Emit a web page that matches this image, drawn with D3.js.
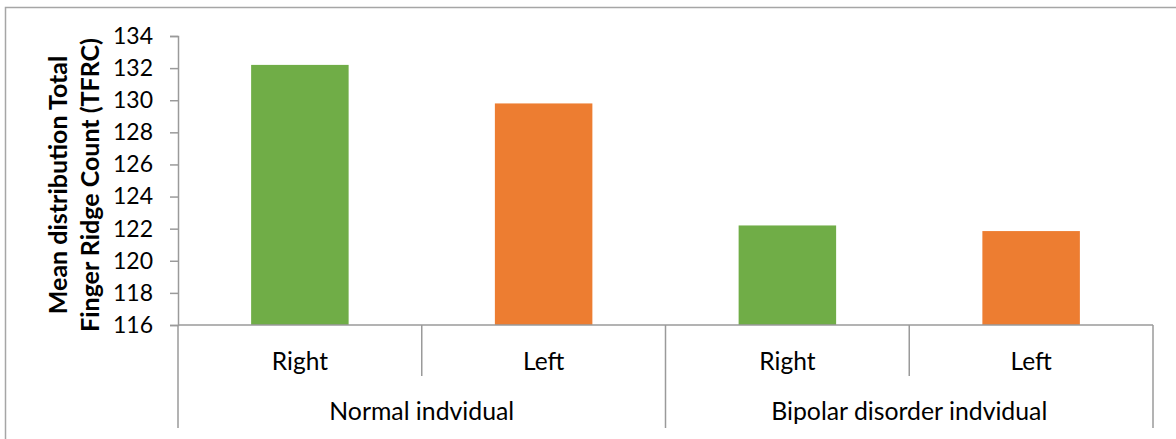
<!DOCTYPE html>
<html>
<head>
<meta charset="utf-8">
<script src="https://cdn.jsdelivr.net/npm/d3@7"></script>
<style>
  html, body { margin: 0; padding: 0; background: #fff; }
  svg { display: block; }
  text { font-family: Lato, "Open Sans", sans-serif; fill: #000; }
</style>
</head>
<body>
<svg id="chart" width="1176" height="439"></svg>
<script>
// Mean Total Finger Ridge Count by hand, for two groups
const groups = ["Normal indvidual", "Bipolar disorder indvidual"];
const hands = ["Right", "Left"];
const values = [132.2, 129.8, 122.2, 121.85];
const yTicks = [116, 118, 120, 122, 124, 126, 128, 130, 132, 134];
const colors = ["#70AD47", "#ED7D31"];

const svg = d3.select("#chart");
const axisColor = "#9a9a9a";

const plotLeft = 178, plotRight = 1153, plotTop = 36, plotBase = 325;
const innerSepBottom = 376, groupSepBottom = 428;

// Outer frame
svg.append("rect")
  .attr("x", 5.5).attr("y", 7.5)
  .attr("width", 1180).attr("height", 450)
  .attr("fill", "none").attr("stroke", "#a6a6a6").attr("stroke-width", 1.5);

// One slot per (group, hand) pair
const slots = [];
groups.forEach((g, gi) => hands.forEach((h, hi) => {
  slots.push({ key: g + "|" + h, group: g, hand: h, hi: hi, value: values[gi * hands.length + hi] });
}));

const x = d3.scaleBand()
  .domain(slots.map(d => d.key))
  .range([plotLeft, plotRight])
  .paddingInner(0.6)
  .paddingOuter(0.3);

const y = d3.scaleLinear().domain([116, 134]).range([plotBase, plotTop]);

// Bars
svg.append("g").selectAll("rect")
  .data(slots)
  .join("rect")
  .attr("x", d => x(d.key))
  .attr("y", d => y(d.value))
  .attr("width", x.bandwidth())
  .attr("height", d => y(116) - y(d.value))
  .attr("fill", d => colors[d.hi]);

// Y axis
const yAxis = svg.append("g")
  .attr("transform", `translate(${plotLeft},0)`)
  .call(d3.axisLeft(y).tickValues(yTicks).tickSize(8).tickPadding(17).tickFormat(d3.format("d")));
yAxis.select(".domain").attr("stroke", axisColor).attr("stroke-width", 1.5);
yAxis.selectAll(".tick line").attr("stroke", axisColor).attr("stroke-width", 1.5);
yAxis.selectAll(".tick text")
  .style("font-size", "23px")
  .attr("fill", "#000");

// Extension of the vertical axis through the category rows
svg.append("line")
  .attr("x1", plotLeft).attr("x2", plotLeft)
  .attr("y1", plotBase).attr("y2", groupSepBottom)
  .attr("stroke", axisColor).attr("stroke-width", 1.5);

// Category baseline
svg.append("line")
  .attr("x1", plotLeft).attr("x2", plotRight)
  .attr("y1", plotBase).attr("y2", plotBase)
  .attr("stroke", axisColor).attr("stroke-width", 1.5);

// Slot dividers: short between hands, long between groups
const step = x.step();
const slotStart = i => plotLeft + i * step;
for (let i = 1; i <= slots.length; i++) {
  const isGroupEdge = i % hands.length === 0;
  svg.append("line")
    .attr("x1", slotStart(i)).attr("x2", slotStart(i))
    .attr("y1", plotBase).attr("y2", isGroupEdge ? groupSepBottom : innerSepBottom)
    .attr("stroke", axisColor).attr("stroke-width", 1.5);
}

// Hand labels
svg.append("g").selectAll("text")
  .data(slots)
  .join("text")
  .attr("x", d => x(d.key) + x.bandwidth() / 2)
  .attr("y", 360)
  .attr("text-anchor", "middle")
  .attr("dominant-baseline", "central")
  .style("font-size", "24.5px")
  .text(d => d.hand);

// Group labels
svg.append("g").selectAll("text")
  .data(groups)
  .join("text")
  .attr("x", (d, i) => slotStart(i * hands.length) + step * hands.length / 2)
  .attr("y", 410)
  .attr("text-anchor", "middle")
  .attr("dominant-baseline", "central")
  .style("font-size", "24.8px")
  .text(d => d);

// Y axis title (two lines, rotated)
const title = svg.append("text")
  .attr("transform", "translate(58,185) rotate(-90)")
  .attr("text-anchor", "middle")
  .style("font-size", "25px")
  .style("font-weight", "bold");
title.append("tspan").attr("x", 0).attr("dy", "0.35em").text("Mean distribution Total");
title.append("tspan").attr("x", 0).attr("dy", "1.28em").text("Finger Ridge Count (TFRC)");
</script>
</body>
</html>
